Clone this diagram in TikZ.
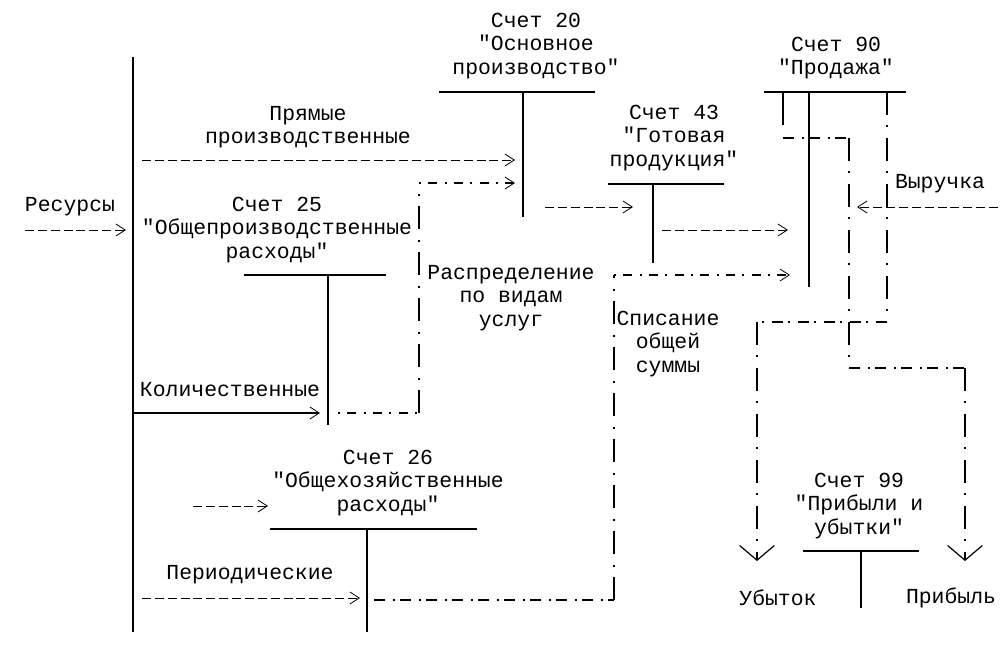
\documentclass[tikz,border=0pt]{standalone}
\usepackage{fontspec}
\setmonofont{Liberation Mono}
\usetikzlibrary{arrows.meta, positioning}

\begin{document}
\begin{tikzpicture}[
    x=0.75pt, y=-0.75pt,
    txt/.style={font=\ttfamily\fontsize{16.07}{17.5}\selectfont, inner sep=0pt, align=center},
    taccount/.style={line width=2pt},
    tleg/.style={line width=1.5pt},
    barb/.style={-{Straight Barb[length=7pt,width=9pt,line width=0.6pt]}},
    downbarb/.style={-{Straight Barb[length=11pt,width=26pt,line width=0.9pt]}},
    dashln/.style={barb, line width=0.6pt, dash pattern=on 6.75pt off 2.9pt},
    hdot/.style={line width=0.9pt, dash pattern=on 1.5pt off 5.5pt on 6.75pt off 5.5pt},
    hbold/.style={line width=1.5pt, dash pattern=on 8.25pt off 6pt on 1.5pt off 3.75pt},
    vdot/.style={line width=1pt, dash pattern=on 17pt off 8pt on 1.5pt off 8pt}
]
\useasboundingbox (0,0) rectangle (1001,660);

% T-accounts: name / left / right / top / leg / bottom
\foreach \n/\l/\r/\y/\c/\b in {20/439/595/92/523/217, 25/244/386/275/328/425,
    43/608/724/184/653/263, 90/764/906/92/809/287, 26/270/477/529/367/632,
    99/803/919/551/861/608} {
  \draw[taccount] (\l,\y) -- (\r,\y);
  \draw[tleg] (\c,\y) -- (\c,\b);
  \coordinate (t\n) at (\c,\y);
}
\coordinate (m0) at (133,57);
\coordinate (m1) at (133,632);
\draw[tleg] (m0) -- (m1);

\node[txt] (res) at (70,207) {Ресурсы};
\node[txt] (pryam) at (308,127) {Прямые\\производственные};
\node[txt] (s20) at (536,46) {Счет 20\\"Основное\\производство"};
\node[txt] (s25) at (277,230) {Счет 25\\"Общепроизводственные\\расходы"};
\node[txt] (kol) at (230,390) {Количественные};
\node[txt] (raspr) at (511,298) {Распределение\\по видам\\услуг};
\node[txt] (s43) at (674,138) {Счет 43\\"Готовая\\продукция"};
\node[txt] (spis) at (668,344) {Списание\\общей\\суммы};
\node[txt] (s90) at (836,58) {Счет 90\\"Продажа"};
\node[txt] (vyr) at (940,184) {Выручка};
\node[txt] (s26) at (388,483) {Счет 26\\"Общехозяйственные\\расходы"};
\node[txt] (period) at (250,575) {Периодические};
\node[txt] (s99) at (859,506) {Счет 99\\"Прибыли и\\убытки"};
\node[txt] (loss) at (778,598) {Убыток};
\node[txt] (prof) at (951,598) {Прибыль};

% arrow ends and corners
\coordinate (resA) at (25,230);   \coordinate (resB) at (126,230);
\coordinate (prA) at (142,160);   \coordinate (prB) at (515,160);
\coordinate (kolA) at (133,413);  \coordinate (kolB) at (320,413);
\coordinate (d25a) at (338,413);  \coordinate (d25b) at (419,413);
\coordinate (d25c) at (419,183);  \coordinate (d25d) at (515,183);
\coordinate (ohA) at (193,506);   \coordinate (ohB) at (268,506);
\coordinate (peA) at (142,598);   \coordinate (peB) at (360,598);
\coordinate (w26a) at (374,600);  \coordinate (w26b) at (614,600);
\coordinate (w26c) at (614,275);  \coordinate (w26d) at (790,275);
\coordinate (p20a) at (545,207);  \coordinate (p20b) at (633,207);
\coordinate (p43a) at (662,230);  \coordinate (p43b) at (788,230);
\coordinate (vyA) at (998,207);   \coordinate (vyB) at (857,207);
\coordinate (pfa) at (783,92);    \coordinate (pfb) at (783,125);
\coordinate (pfc) at (783,138);   \coordinate (pfd) at (849,138);
\coordinate (pfe) at (849,368);   \coordinate (pff) at (965,368);
\coordinate (pfg) at (965,561);
\coordinate (lsa) at (887,92);    \coordinate (lsb) at (887,322);
\coordinate (lsc) at (757,322);   \coordinate (lsd) at (757,561);

\draw[dashln] (resA) -- (resB);
\draw[dashln] (prA) -- (prB);
\draw[barb, line width=1.5pt] (kolA) -- (kolB);
\draw[hdot] (d25a) -- (d25b);
\draw[vdot] (d25b) -- (d25c);
\draw[hdot, barb] (d25c) -- (d25d);
\draw[dashln] (ohA) -- (ohB);
\draw[dashln] (peA) -- (peB);
\draw[hbold] (w26a) -- (w26b);
\draw[vdot] (w26b) -- (w26c);
\draw[hdot, barb] (w26c) -- (w26d);
\draw[dashln] (p20a) -- (p20b);
\draw[dashln] (p43a) -- (p43b);
\draw[dashln] (vyA) -- (vyB);
\draw[tleg] (pfa) -- (pfb);
\draw[hbold] (pfc) -- (pfd);
\draw[vdot] (pfd) -- (pfe);
\draw[hbold] (pfe) -- (pff);
\draw[vdot, downbarb] (pff) -- (pfg);
\draw[vdot] (lsa) -- (lsb);
\draw[hbold] (lsb) -- (lsc);
\draw[vdot, downbarb] (lsc) -- (lsd);
\end{tikzpicture}
\end{document}
